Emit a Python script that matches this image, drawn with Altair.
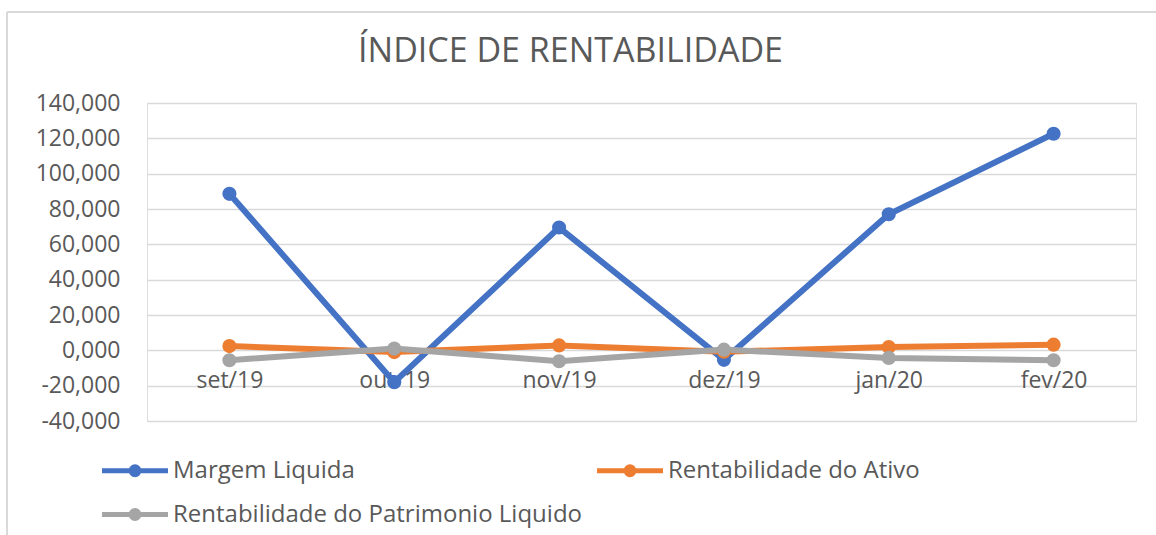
import altair as alt
import pandas as pd

months = ["set/19", "out/19", "nov/19", "dez/19", "jan/20", "fev/20"]
margem_liquida = [88.6, -18.0, 69.5, -5.4, 77.0, 122.6]
rent_ativo = [2.4, -1.0, 2.8, -0.8, 1.9, 3.2]
rent_patrimonio = [-5.6, 1.0, -6.2, 0.4, -4.3, -5.6]
series_names = ["Margem Liquida", "Rentabilidade do Ativo", "Rentabilidade do Patrimonio Liquido"]
series_colors = ["#4472C4", "#ED7D31", "#A5A5A5"]
y_ticks = [-40, -20, 0, 20, 40, 60, 80, 100, 120, 140]

rows = []
for name, vals in zip(series_names, [margem_liquida, rent_ativo, rent_patrimonio]):
    for m, v in zip(months, vals):
        rows.append({"month": m, "value": v, "series": name})
df = pd.DataFrame(rows)

W, H = 989, 318
GRAY = "#595959"
FONT = "Open Sans"

legend_path = ("M-3,0L3,0"
               "M0.36,0A0.36,0.36,0,1,1,-0.36,0A0.36,0.36,0,1,1,0.36,0"
               "M0.15,0A0.15,0.15,0,1,1,-0.15,0A0.15,0.15,0,1,1,0.15,0")

x_enc = alt.X("month:N", sort=months,
              scale=alt.Scale(type="point", padding=0.5),
              axis=alt.Axis(title=None, labelAngle=0, domain=False, ticks=False, tickSize=0,
                            grid=False, offset=-71, labelPadding=19, labelFontSize=23,
                            labelFont=FONT, labelColor=GRAY))
y_enc = alt.Y("value:Q",
              scale=alt.Scale(domain=[-40, 140], nice=False, zero=False),
              axis=alt.Axis(title=None, values=y_ticks, format=".3f", domain=False, ticks=False,
                            tickSize=0, labelPadding=27, labelFontSize=23, labelFont=FONT,
                            labelColor=GRAY, gridColor="#d9d9d9", gridWidth=1.5))

color_scale = alt.Scale(domain=series_names, range=series_colors)

base = alt.Chart(df)

lines = base.mark_line(strokeWidth=6).encode(
    x=x_enc, y=y_enc,
    color=alt.Color("series:N", scale=color_scale, sort=series_names,
                    legend=alt.Legend(orient="none", legendX=-25.5, legendY=354, columns=2,
                                      direction="horizontal",
                                      title=None, symbolType=legend_path, symbolSize=484,
                                      symbolStrokeWidth=5, labelFontSize=24, labelFont=FONT,
                                      labelColor=GRAY, labelOffset=24.5, labelLimit=800,
                                      columnPadding=4, rowPadding=15)),
    order=alt.Order("series:N")
)

points = base.mark_circle(size=200, opacity=1).encode(
    x=x_enc, y=y_enc,
    color=alt.Color("series:N", scale=color_scale, sort=series_names, legend=None)
)

frame_df = pd.DataFrame({"k": [0]})
frame_top = alt.Chart(frame_df).mark_rule(color="#d9d9d9", strokeWidth=2).encode(
    x=alt.value(-140), x2=alt.value(1009), y=alt.value(-91))
frame_left = alt.Chart(frame_df).mark_rule(color="#d9d9d9", strokeWidth=2).encode(
    x=alt.value(-140), y=alt.value(-91), y2=alt.value(432))

chart = alt.layer(frame_top, frame_left, lines, points).properties(
    width=W, height=H,
    title=alt.TitleParams("ÍNDICE DE RENTABILIDADE", font=FONT, fontSize=34, fontWeight="normal",
                          color=GRAY, anchor="middle", dx=-71, offset=-85,
                          baseline="alphabetic"),
    autosize=alt.AutoSizeParams(type="none"),
    padding={"left": 147, "top": 103, "right": 20, "bottom": 114},
    background="white"
).configure_view(stroke=None).configure(
    locale={"number": {"decimal": ",", "thousands": ".", "grouping": [3],
                       "currency": ["R$", ""], "minus": "-"}}
)

chart.save("out.html", embed_options={"renderer": "svg", "actions": False})
